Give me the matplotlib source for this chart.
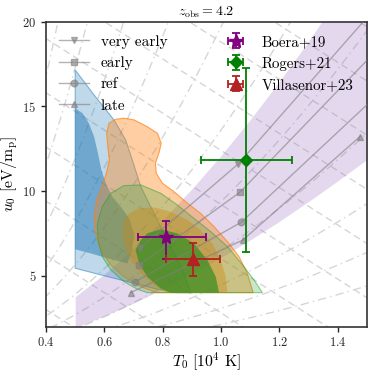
import numpy as np
import matplotlib
matplotlib.use("Agg")
import matplotlib.pyplot as plt

plt.rcParams['font.family'] = 'serif'
plt.rcParams['font.serif'] = ['cmr10', 'DejaVu Serif']
plt.rcParams['mathtext.fontset'] = 'cm'
plt.rcParams['axes.formatter.use_mathtext'] = True
plt.rcParams['axes.unicode_minus'] = False

# ---------------- data ----------------
z_obs = 4.2

# observational points: T0 [1e4 K], u0 [eV/mp]
obs_labels = ["Boera+19", "Rogers+21", "Villasenor+23"]
obs_T = [0.813, 1.087, 0.905]
obs_T_lo = [0.096, 0.157, 0.092]
obs_T_hi = [0.134, 0.157, 0.092]
obs_u = [7.28, 11.83, 5.97]
obs_u_lo = [1.30, 5.45, 0.99]
obs_u_hi = [0.97, 5.42, 0.94]
obs_colors = ["purple", "green", "#b22222"]
obs_markers = ["*", "D", "^"]
obs_ms = [10, 6.5, 8.5]

# model tracks (reionisation timing)
model_labels = ["very early", "early", "ref", "late"]
model_markers = ["v", "s", "o", "^"]
model_T = [[0.722, 1.059, 1.60],
           [0.720, 1.065, 1.60],
           [0.706, 1.069, 1.60],
           [0.690, 1.075, 1.476]]
model_u = [[6.62, 11.60, 22.2],
           [5.63, 9.93, 19.5],
           [4.65, 8.15, 16.7],
           [4.00, 7.11, 13.21]]

# purple band edges
band_T = [0.5, 0.6, 0.7, 0.8, 0.9, 1.0, 1.1, 1.2, 1.3, 1.4, 1.5]
band_u_hi = [3.76, 5.10, 6.62, 8.30, 10.13, 12.10, 14.22, 16.47, 18.85, 21.37, 24.0]
band_u_lo = [1.94, 2.62, 3.38, 4.21, 5.11, 6.08, 7.11, 8.21, 9.38, 10.60, 11.86]

# blue posterior contours
blue95_T = [0.500, 0.565, 0.633, 0.673, 0.696, 0.725, 0.753, 0.782, 0.827, 0.873, 0.896,
            0.850, 0.827, 0.770, 0.713, 0.656, 0.576, 0.500]
blue95_u = [17.15, 15.67, 14.20, 13.02, 11.83, 10.26, 9.28, 8.29, 6.72, 5.14, 4.00,
            4.00, 4.06, 4.25, 4.51, 4.75, 5.10, 5.44]
blue68_T = [0.500, 0.525, 0.547, 0.565, 0.578, 0.590, 0.605, 0.627, 0.656, 0.685, 0.702,
            0.696, 0.679, 0.610, 0.553, 0.500]
blue68_u = [14.89, 14.60, 14.00, 13.21, 12.23, 11.24, 10.46, 9.67, 9.08, 8.39, 7.50,
            6.52, 5.73, 6.03, 6.32, 6.56]

# orange posterior contours
orange95_T = [0.616, 0.639, 0.667, 0.702, 0.747, 0.782, 0.795, 0.787, 0.775, 0.778, 0.799,
              0.839, 0.885, 0.930, 0.976, 1.022, 1.062, 1.090, 1.104, 1.110,
              0.779, 0.725, 0.667, 0.622, 0.587, 0.570, 0.565, 0.574, 0.592, 0.607,
              0.617, 0.612, 0.608]
orange95_u = [14.00, 14.24, 14.30, 14.20, 13.80, 13.41, 12.82, 12.23, 11.64, 11.05, 10.46,
              9.96, 9.28, 8.68, 7.90, 7.01, 6.12, 5.14, 4.35, 4.00,
              4.00, 4.35, 4.94, 5.63, 6.52, 7.50, 8.49, 9.47, 10.26, 11.05,
              11.83, 12.62, 13.41]
orange68_T = [1.022, 1.016, 0.999, 0.970, 0.930, 0.885, 0.827, 0.770, 0.719, 0.685, 0.665,
              0.662, 0.670, 0.690, 0.725, 0.770, 0.816]
orange68_u = [4.00, 4.94, 5.93, 6.91, 7.70, 8.29, 8.78, 9.04, 8.98, 8.68, 8.19,
              7.50, 6.72, 5.93, 5.14, 4.45, 4.00]

# green posterior contours
green95_T = [0.576, 0.593, 0.622, 0.667, 0.725, 0.793, 0.850, 0.907, 0.965, 1.022, 1.079,
             1.113, 1.142, 0.747, 0.713, 0.667, 0.622, 0.593, 0.578]
green95_u = [8.09, 9.08, 9.87, 10.32, 10.36, 9.87, 9.18, 8.39, 7.60, 6.72, 5.53,
             4.75, 4.00, 4.00, 4.20, 4.65, 5.34, 6.12, 7.11]
green68_T = [0.707, 0.725, 0.747, 0.793, 0.850, 0.907, 0.953, 0.982, 0.993, 0.827, 0.793,
             0.747, 0.719]
green68_u = [6.52, 7.11, 7.50, 7.74, 7.50, 6.91, 5.93, 4.94, 4.00, 4.00, 4.25,
             4.94, 5.73]

# background reference curves
dashdot_coef = [2.12, 3.07, 4.46, 6.47, 9.38, 13.6, 19.7, 28.6, 41.5, 60.2, 87.3]
dashdot_power = 1.8
dashed_intercept = [7.4, 10.6, 13.8, 17.0, 20.2, 23.4, 26.6, 29.8, 33.0, 36.2, 39.4]
dashed_slope = -11.0

# ---------------- plot ----------------
fig = plt.figure(figsize=(3.74, 3.74), dpi=100)
ax = fig.add_axes([0.123, 0.127, 0.858, 0.815])

Tgrid = np.linspace(0.3, 1.6, 300)
for c in dashdot_coef:
    ax.plot(Tgrid, c * Tgrid ** dashdot_power, color='0.84', lw=1.0,
            ls=(0, (6, 3, 1, 3)), zorder=0.5)
for a in dashed_intercept:
    ax.plot(Tgrid, a + dashed_slope * Tgrid, color='0.84', lw=1.0,
            ls=(0, (5, 3)), zorder=0.5)

ax.fill_between(band_T, band_u_lo, band_u_hi, color='tab:purple', alpha=0.25,
                lw=0, zorder=1)

orange = (1.0, 0.5, 0.055)
green = (0.17, 0.63, 0.17)
ax.fill(blue95_T, blue95_u, facecolor=(0.12, 0.47, 0.71, 0.28),
        edgecolor=(0.12, 0.47, 0.71, 0.5), lw=0.8, zorder=2)
ax.fill(blue68_T, blue68_u, color='tab:blue', alpha=0.5, lw=0, zorder=2)
ax.fill(orange95_T, orange95_u, facecolor=orange + (0.38,),
        edgecolor=orange + (0.7,), lw=0.8, zorder=3)
ax.fill(orange68_T, orange68_u, facecolor=orange + (0.4,), lw=0, zorder=3)
ax.fill(green95_T, green95_u, facecolor=green + (0.25,),
        edgecolor=green + (0.5,), lw=0.8, zorder=4)
ax.fill(green68_T, green68_u, facecolor=(0.15, 0.55, 0.12, 0.65), lw=0, zorder=4)

for lab, mk, tx, ux in zip(model_labels, model_markers, model_T, model_u):
    ax.plot(tx, ux, color='gray', alpha=0.6, lw=1.0, marker=mk, ms=4.8,
            label=lab, zorder=5)

obs_handles = []
for i in range(len(obs_labels)):
    h = ax.errorbar(obs_T[i], obs_u[i],
                    xerr=[[obs_T_lo[i]], [obs_T_hi[i]]],
                    yerr=[[obs_u_lo[i]], [obs_u_hi[i]]],
                    color=obs_colors[i], marker=obs_markers[i], ms=obs_ms[i],
                    capsize=3, elinewidth=1.3, capthick=1.3, ls='none',
                    label=obs_labels[i], zorder=6)
    obs_handles.append(h)

ax.set_xlim(0.4, 1.5)
ax.set_ylim(2, 20)
ax.set_xticks([0.4, 0.6, 0.8, 1.0, 1.2, 1.4])
ax.set_yticks([5, 10, 15, 20])
ax.tick_params(direction='out', length=3.5, width=1.0, labelsize=9, colors='0.15')
for s in ax.spines.values():
    s.set_linewidth(1.2)
    s.set_color('0.2')

ax.set_xlabel(r"$T_0\ [10^4\ \mathrm{K}]$", fontsize=11.3, labelpad=0.5)
ax.set_ylabel(r"$u_0\ [\mathrm{eV}/\mathrm{m_p}]$", fontsize=11.3, labelpad=2)
ax.set_title(r"$z_{\rm obs}=$" + f"{z_obs}", fontsize=10, pad=4)

mh, ml = ax.get_legend_handles_labels()
model_h = [h for h, l in zip(mh, ml) if l in model_labels]
leg1 = ax.legend(model_h, model_labels, loc='upper left', frameon=False,
                 fontsize=11, handlelength=1.95, handletextpad=0.78,
                 labelspacing=0.5, borderaxespad=0.47)
ax.add_artist(leg1)
ax.legend(obs_handles, obs_labels, loc='upper right', frameon=False,
          fontsize=10.8, handlelength=1.25, handletextpad=1.1,
          labelspacing=0.52, borderaxespad=0.5)

fig.savefig("out.png", dpi=100)
